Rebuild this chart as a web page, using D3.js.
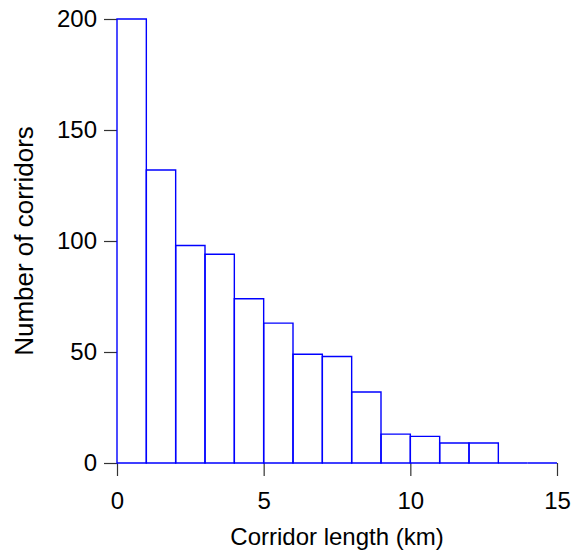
<!DOCTYPE html>
<html>
<head>
<meta charset="utf-8">
<script src="https://cdn.jsdelivr.net/npm/d3@7"></script>
<style>
  body { margin: 0; background: #fff; }
  svg { font-family: "Liberation Sans", Arial, sans-serif; }
</style>
</head>
<body>
<div id="chart"></div>
<script>
// histogram bins (km) and counts
var binStarts = [0, 1, 2, 3, 4, 5, 6, 7, 8, 9, 10, 11, 12, 13, 14]
var counts = [200, 132, 98, 94, 74, 63, 49, 48, 32, 13, 12, 9, 9, 0, 0]
var xTicks = [0, 5, 10, 15]
var yTicks = [0, 50, 100, 150, 200]

var data = binStarts.map(function (d, i) { return { x0: d, x1: d + 1, n: counts[i] } })

var W = 573, H = 553
var margin = { top: 19, right: 16, bottom: 90, left: 117 },
  width = W - margin.left - margin.right,
  height = H - margin.top - margin.bottom

var svg = d3.select("#chart").append("svg")
  .attr("width", W)
  .attr("height", H)

var g = svg.append("g")
  .attr("transform", "translate(" + margin.left + "," + margin.top + ")")

var x = d3.scaleLinear().domain([0, 15]).range([0, width])
var y = d3.scaleLinear().domain([0, 200]).range([height, 0])

function styleAxis(sel) {
  sel.select(".domain").remove()
  sel.selectAll(".tick line").attr("stroke", "#333").attr("stroke-width", 1.2)
  sel.selectAll(".tick text").attr("fill", "#000").style("font-size", "24px")
}

g.append("g")
  .attr("transform", "translate(0," + height + ")")
  .call(d3.axisBottom(x).tickValues(xTicks).tickSize(13).tickPadding(16))
  .call(styleAxis)

g.append("g")
  .call(d3.axisLeft(y).tickValues(yTicks).tickSize(13).tickPadding(7))
  .call(styleAxis)

// bars as paths so empty bins still show their top edge on the baseline
g.append("g").selectAll("path")
  .data(data)
  .enter().append("path")
  .attr("d", function (d) {
    return "M" + x(d.x0) + "," + y(0) + "V" + y(d.n) + "H" + x(d.x1) + "V" + y(0) + "Z"
  })
  .attr("fill", "none")
  .attr("stroke", "#0000ff")
  .attr("stroke-width", 1.4)

svg.append("text")
  .attr("x", margin.left + width / 2)
  .attr("y", 545)
  .attr("text-anchor", "middle")
  .style("font-size", "24px")
  .text("Corridor length (km)")

svg.append("text")
  .attr("transform", "translate(33," + (margin.top + height / 2) + ") rotate(-90)")
  .attr("text-anchor", "middle")
  .style("font-size", "26px")
  .text("Number of corridors")
</script>
</body>
</html>
